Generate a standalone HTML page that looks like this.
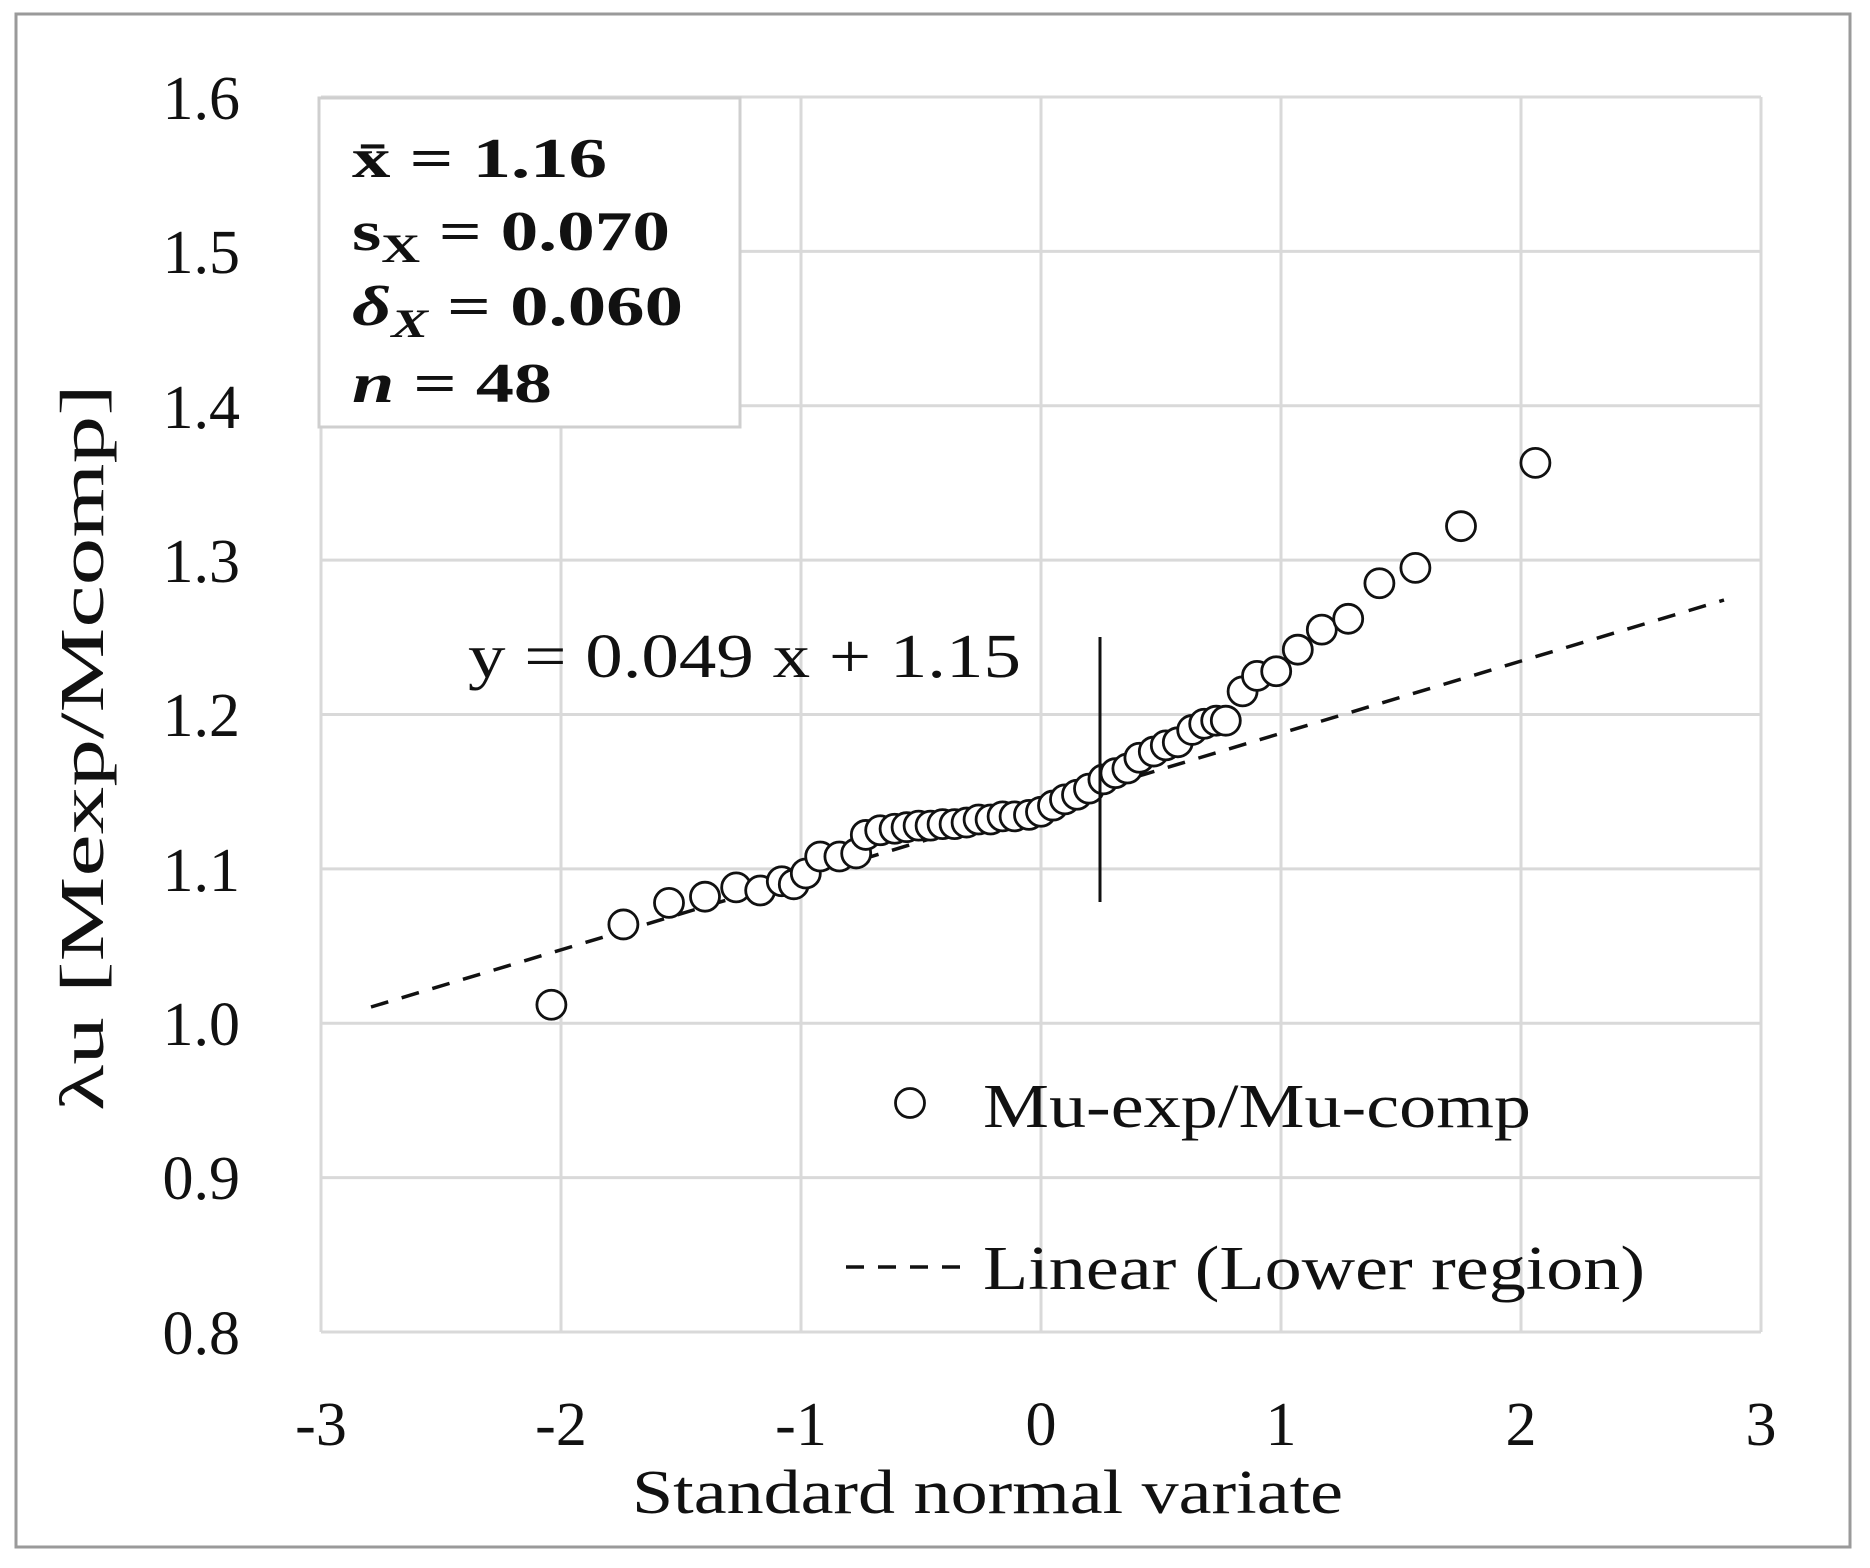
<!DOCTYPE html>
<html><head><meta charset="utf-8"><style>
html,body{margin:0;padding:0;background:#fff;}
svg{display:block;font-family:"Liberation Serif",serif;}
text{font-family:"Liberation Serif",serif;}
</style></head><body>
<svg id="s" width="1870" height="1568" viewBox="0 0 1870 1568" xmlns="http://www.w3.org/2000/svg">
<rect x="0" y="0" width="1870" height="1568" fill="#fff"/>
<rect x="16" y="14" width="1834" height="1533" fill="none" stroke="#9a9a9a" stroke-width="3"/>
<g stroke="#d9d9d9" stroke-width="3">
<line x1="321" y1="97" x2="1761" y2="97"/>
<line x1="321" y1="251.4" x2="1761" y2="251.4"/>
<line x1="321" y1="405.8" x2="1761" y2="405.8"/>
<line x1="321" y1="560.1" x2="1761" y2="560.1"/>
<line x1="321" y1="714.5" x2="1761" y2="714.5"/>
<line x1="321" y1="868.9" x2="1761" y2="868.9"/>
<line x1="321" y1="1023.3" x2="1761" y2="1023.3"/>
<line x1="321" y1="1177.6" x2="1761" y2="1177.6"/>
<line x1="321" y1="1332" x2="1761" y2="1332"/>
<line x1="321" y1="97" x2="321" y2="1332"/>
<line x1="561" y1="97" x2="561" y2="1332"/>
<line x1="801" y1="97" x2="801" y2="1332"/>
<line x1="1041" y1="97" x2="1041" y2="1332"/>
<line x1="1281" y1="97" x2="1281" y2="1332"/>
<line x1="1521" y1="97" x2="1521" y2="1332"/>
<line x1="1761" y1="97" x2="1761" y2="1332"/>
</g>
<g font-size="62" fill="#111" text-anchor="end">
<text x="240" y="119">1.6</text>
<text x="240" y="273">1.5</text>
<text x="240" y="428">1.4</text>
<text x="240" y="582">1.3</text>
<text x="240" y="736">1.2</text>
<text x="240" y="891">1.1</text>
<text x="240" y="1045">1.0</text>
<text x="240" y="1199">0.9</text>
<text x="240" y="1354">0.8</text>
</g>
<g font-size="62" fill="#111" text-anchor="middle">
<text x="321" y="1445">-3</text>
<text x="561" y="1445">-2</text>
<text x="801" y="1445">-1</text>
<text x="1041" y="1445">0</text>
<text x="1281" y="1445">1</text>
<text x="1521" y="1445">2</text>
<text x="1761" y="1445">3</text>
</g>
<text x="632" y="1513" font-size="62" fill="#111" textLength="711" lengthAdjust="spacingAndGlyphs">Standard normal variate</text>
<text transform="translate(103,1111) rotate(-90)" font-size="62" fill="#111" textLength="727" lengthAdjust="spacingAndGlyphs">λu [Mexp/Mcomp]</text>
<line x1="371" y1="1007" x2="1724" y2="600" stroke="#111" stroke-width="3.5" stroke-dasharray="18,14"/>
<g id="pts" fill="#fff" stroke="#111" stroke-width="2.8"></g>
<line x1="1100" y1="637" x2="1100" y2="902" stroke="#111" stroke-width="3"/>
<text x="468" y="677" font-size="62" fill="#111" textLength="553" lengthAdjust="spacingAndGlyphs">y = 0.049 x + 1.15</text>
<rect x="319" y="98" width="421" height="329" fill="#fff" stroke="#cfcfcf" stroke-width="3"/>
<g font-size="56" font-weight="bold" fill="#111">
<text x="352" y="177" textLength="255" lengthAdjust="spacingAndGlyphs">x̄ = 1.16</text>
<text x="352" y="250" textLength="318" lengthAdjust="spacingAndGlyphs">s<tspan font-size="40" dy="12">X</tspan><tspan dy="-12" font-size="56"> = 0.070</tspan></text>
<text x="352" y="325" textLength="331" lengthAdjust="spacingAndGlyphs"><tspan font-style="italic">δ</tspan><tspan font-size="40" dy="12" font-style="italic">X</tspan><tspan dy="-12"> = 0.060</tspan></text>
<text x="352" y="402" textLength="200" lengthAdjust="spacingAndGlyphs"><tspan font-style="italic">n</tspan> = 48</text>
</g>
<circle cx="910" cy="1103" r="14.5" fill="#fff" stroke="#111" stroke-width="2.8"/>
<text x="983" y="1127" font-size="62" fill="#111" textLength="548" lengthAdjust="spacingAndGlyphs">Mu-exp/Mu-comp</text>
<line x1="846" y1="1267" x2="965" y2="1267" stroke="#111" stroke-width="3.5" stroke-dasharray="18,14"/>
<text x="983" y="1289" font-size="62" fill="#111" textLength="662" lengthAdjust="spacingAndGlyphs">Linear (Lower region)</text>
</svg>
<script>
var d=[[-2.04,1.012],[-1.74,1.064],[-1.55,1.078],[-1.40,1.082],[-1.27,1.088],[-1.17,1.086],[-1.08,1.092],[-1.03,1.090],[-0.98,1.097],[-0.92,1.108],[-0.84,1.108],[-0.77,1.110],[-0.73,1.122],[-0.67,1.125],[-0.61,1.126],[-0.56,1.127],[-0.51,1.128],[-0.46,1.128],[-0.41,1.129],[-0.36,1.129],[-0.31,1.130],[-0.26,1.132],[-0.21,1.132],[-0.16,1.134],[-0.11,1.134],[-0.05,1.135],[0.00,1.137],[0.05,1.141],[0.10,1.145],[0.15,1.148],[0.20,1.152],[0.26,1.158],[0.31,1.162],[0.36,1.165],[0.41,1.172],[0.47,1.176],[0.52,1.180],[0.57,1.182],[0.63,1.190],[0.68,1.194],[0.73,1.196],[0.77,1.196],[0.84,1.215],[0.90,1.225],[0.98,1.228],[1.07,1.242],[1.17,1.255],[1.28,1.262],[1.41,1.285],[1.56,1.295],[1.75,1.322],[2.06,1.363]];
var g=document.getElementById('pts'),h='';
d.forEach(function(p){h+='<circle cx="'+(321+(p[0]+3)*240)+'" cy="'+(1332-(p[1]-0.8)*1543.75)+'" r="14.5"/>';});
g.innerHTML=h;
</script>
</body></html>
